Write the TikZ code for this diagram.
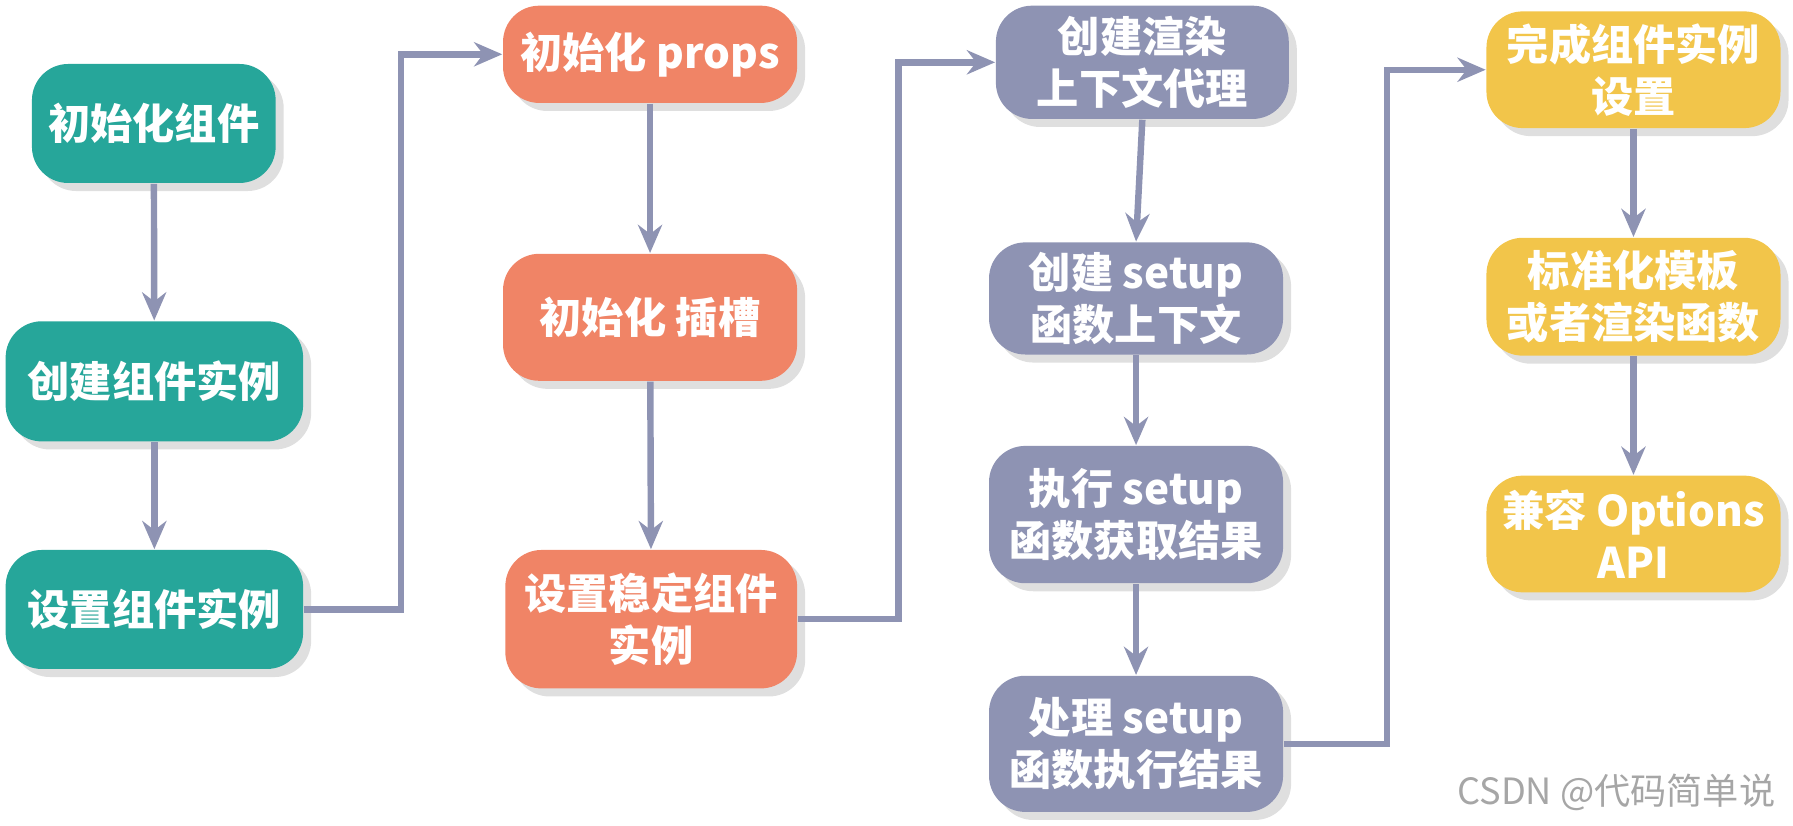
\documentclass[tikz,border=0pt]{standalone}
\usepackage{fontspec}
\setmainfont{Noto Sans CJK SC}
\usetikzlibrary{shadows,arrows.meta}
\definecolor{cg}{HTML}{26A69A}
\definecolor{co}{HTML}{F08466}
\definecolor{cp}{HTML}{8E93B3}
\definecolor{cy}{HTML}{F2C54A}
\definecolor{ca}{HTML}{8E93B3}
\begin{document}
\begin{tikzpicture}[x=0.01cm,y=-0.01cm,
  box/.style={rounded corners=9pt,text=white,align=center,font=\fontsize{10.5pt}{13pt}\selectfont\bfseries,inner sep=2pt,
    drop shadow={opacity=0.25,shadow xshift=2pt,shadow yshift=-2pt}},
  g/.style={box,fill=cg},o/.style={box,fill=co},p/.style={box,fill=cp},yl/.style={box,fill=cy},
  arr/.style={draw=ca,line width=1.6pt,-{Stealth[length=7pt,width=6pt]}}]
\useasboundingbox (0,0) rectangle (1568,722);
\node[g,minimum width=213\pgflinewidth*0+2.13cm,minimum height=1.04cm] (a1) at (134.5,108) {初始化组件};
\node[g,minimum width=2.6cm,minimum height=1.05cm] (a2) at (135,333.5) {创建组件实例};
\node[g,minimum width=2.6cm,minimum height=1.04cm] (a3) at (135,533) {设置组件实例};
\node[o,minimum width=2.57cm,minimum height=0.85cm] (b1) at (568.5,47.5) {初始化 props};
\node[o,minimum width=2.57cm,minimum height=1.11cm] (b2) at (568.5,277.5) {初始化 插槽};
\node[o,minimum width=2.55cm,minimum height=1.21cm] (b3) at (569.5,541.5) {设置稳定组件\\实例};
\node[p,minimum width=2.56cm,minimum height=0.99cm] (c1) at (999,54.5) {创建渲染\\上下文代理};
\node[p,minimum width=2.57cm,minimum height=0.98cm] (c2) at (993.5,261) {创建 setup\\函数上下文};
\node[p,minimum width=2.57cm,minimum height=1.2cm] (c3) at (993.5,450) {执行 setup\\函数获取结果};
\node[p,minimum width=2.57cm,minimum height=1.19cm] (c4) at (993.5,650.5) {处理 setup\\函数执行结果};
\node[yl,minimum width=2.57cm,minimum height=1.02cm] (d1) at (1428.5,61) {完成组件实例\\设置};
\node[yl,minimum width=2.57cm,minimum height=1.03cm] (d2) at (1428.5,259.5) {标准化模板\\或者渲染函数};
\node[yl,minimum width=2.57cm,minimum height=1.02cm] (d3) at (1428.5,467) {兼容 Options\\API};
\draw[arr] (a1) -- (a2);
\draw[arr] (a2) -- (a3);
\draw[arr] (a3.east) -- ++(85,0) |- (b1.west);
\draw[arr] (b1) -- (b2);
\draw[arr] (b2) -- (b3);
\draw[arr] (b3.east) -- ++(88,0) |- (c1.west);
\draw[arr] (c1.south) -- (c2.north);
\draw[arr] (c2) -- (c3);
\draw[arr] (c3) -- (c4);
\draw[arr] (c4.east) -- ++(90,0) |- (d1.west);
\draw[arr] (d1) -- (d2);
\draw[arr] (d2) -- (d3);
\node[anchor=east,text=gray!70,font=\fontsize{9pt}{11pt}\selectfont] (wm) at (1565,693) {CSDN @代码简单说};
\end{tikzpicture}
\end{document}
